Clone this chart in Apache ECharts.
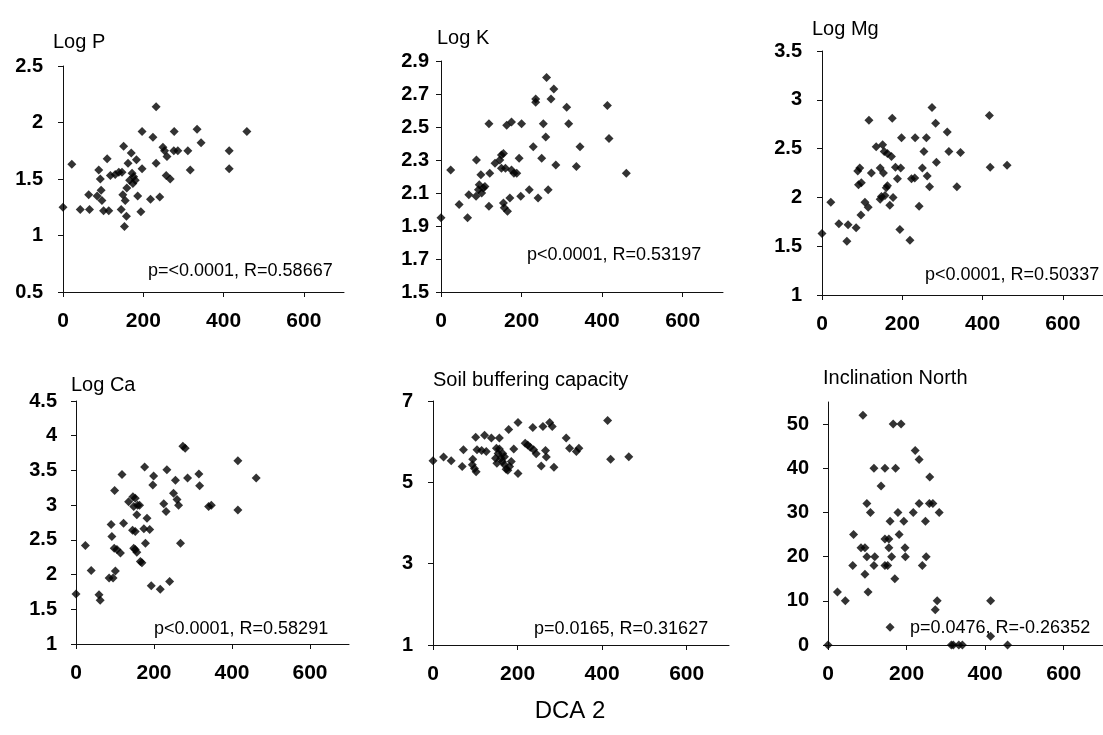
<!DOCTYPE html>
<html>
<head>
<meta charset="utf-8">
<script src="https://cdn.jsdelivr.net/npm/echarts@6/dist/echarts.min.js"></script>
<style>
html,body{margin:0;padding:0;background:#fff;}
#c{width:1103px;height:735px;}
</style>
</head>
<body>
<div id="c"></div>
<script>
// ---------- DATA ----------
const xTicks = [0, 200, 400, 600];

const logP = [[0,1.25],[22,1.63],[43,1.23],[64,1.36],[66,1.23],[89,1.58],[93,1.50],[85,1.35],[95,1.40],[97,1.31],
[101,1.22],[110,1.68],[114,1.22],[118,1.53],[130,1.54],[139,1.56],[147,1.56],[145,1.23],[149,1.36],[151,1.79],
[153,1.08],[155,1.31],[158,1.17],[159,1.42],[162,1.64],[166,1.49],[170,1.73],[172,1.55],[174,1.46],[176,1.52],
[180,1.49],[183,1.67],[186,1.35],[194,1.21],[197,1.92],[197,1.59],[218,1.32],[224,1.87],[232,2.14],[232,1.64],
[241,1.34],[249,1.78],[253,1.75],[259,1.70],[257,1.53],[267,1.50],[277,1.92],[276,1.75],[286,1.75],[311,1.75],
[317,1.58],[334,1.94],[344,1.82],[414,1.75],[414,1.59],[458,1.92]];
const logPTicks = [0.5, 1, 1.5, 2, 2.5];

const logK = [[0,1.95],[24,2.24],[45,2.03],[66,1.95],[69,2.09],[88,2.30],[87,2.08],[93,2.12],[95,2.15],[99,2.21],
[101,2.10],[105,2.13],[109,2.14],[119,2.52],[119,2.02],[121,2.22],[134,2.28],[146,2.30],[150,2.33],[155,2.34],
[150,2.25],[155,2.04],[157,2.01],[160,2.25],[163,2.51],[165,1.99],[171,2.07],[175,2.53],[175,2.24],[181,2.22],
[188,2.22],[194,2.31],[198,2.08],[200,2.52],[219,2.12],[229,2.38],[235,2.67],[235,2.65],[241,2.07],[250,2.31],
[254,2.52],[260,2.44],[262,2.80],[266,2.12],[273,2.67],[280,2.73],[285,2.27],[312,2.62],[317,2.52],[336,2.26],
[345,2.38],[413,2.63],[417,2.43],[460,2.22]];
const logKTicks = [1.5, 1.7, 1.9, 2.1, 2.3, 2.5, 2.7, 2.9];

const logMg = [[0,1.63],[22,1.95],[42,1.73],[62,1.55],[65,1.72],[85,1.69],[89,2.27],[94,2.30],[91,2.13],[98,2.15],
[97,1.82],[107,1.95],[115,1.90],[117,2.79],[123,2.25],[135,2.52],[145,2.30],[151,2.54],[153,2.25],[145,1.98],
[148,2.01],[155,2.47],[157,2.02],[160,2.10],[163,2.12],[163,2.45],[169,1.92],[173,2.42],[175,2.81],[177,2.00],
[183,2.31],[188,2.19],[194,1.67],[196,2.30],[198,2.61],[219,1.56],[223,2.19],[231,2.20],[232,2.61],[242,1.91],
[250,2.30],[254,2.47],[260,2.61],[262,2.22],[268,2.11],[274,2.92],[283,2.76],[285,2.36],[312,2.67],[316,2.47],
[336,2.11],[345,2.46],[417,2.84],[419,2.31],[461,2.33]];
const logMgTicks = [1, 1.5, 2, 2.5, 3, 3.5];

const logCa = [[0,1.72],[24,2.42],[39,2.06],[59,1.71],[62,1.63],[90,2.72],[92,2.55],[85,1.95],[95,1.95],[101,2.05],
[99,3.21],[98,2.38],[105,2.36],[114,2.31],[118,3.44],[122,2.74],[135,3.05],[146,3.12],[148,2.98],[152,3.10],
[156,2.86],[158,3.00],[163,3.00],[145,2.64],[152,2.62],[148,2.38],[152,2.36],[156,2.32],[165,2.19],[169,2.17],
[174,2.66],[176,3.55],[178,2.45],[182,2.81],[189,2.65],[193,1.84],[197,3.29],[199,3.42],[216,1.79],[225,3.02],
[231,2.91],[233,3.51],[240,1.90],[250,3.17],[255,3.36],[259,3.08],[263,3.00],[268,2.45],[274,3.85],[280,3.82],
[286,3.39],[315,3.45],[317,3.28],[340,2.98],[347,3.00],[415,3.64],[415,2.93],[462,3.39]];
const logCaTicks = [1, 1.5, 2, 2.5, 3, 3.5, 4, 4.5];

const soilBuffer = [[0,5.53],[25,5.62],[43,5.53],[69,5.39],[72,5.80],[94,5.57],[93,5.43],[98,5.34],[102,5.26],[101,6.11],
[104,5.80],[115,5.78],[122,6.16],[126,5.76],[138,6.09],[157,6.09],[150,5.84],[154,5.71],[157,5.82],[148,5.59],
[151,5.47],[161,5.59],[164,5.51],[165,5.71],[169,5.63],[169,5.43],[173,5.32],[177,5.30],[179,6.30],[181,5.39],
[185,5.51],[191,5.82],[201,6.47],[201,5.22],[218,5.96],[224,5.92],[230,5.86],[236,6.35],[238,5.80],[244,5.70],
[256,5.40],[260,6.37],[266,5.78],[268,5.62],[276,6.47],[282,6.37],[286,5.37],[315,6.09],[323,5.84],[339,5.76],
[345,5.84],[413,6.52],[420,5.57],[463,5.63]];
const soilTicks = [1, 3, 5, 7];

const inclNorth = [[0,0],[24,12],[44,10],[65,25],[63,18],[89,52],[84,22],[94,22],[99,20],[94,16],
[99,32],[108,30],[102,12],[117,40],[119,20],[117,18],[135,36],[145,40],[145,24],[155,24],
[145,18],[152,18],[155,22],[158,28],[158,4],[162,20],[166,50],[186,50],[172,40],[170,15],
[178,30],[181,25],[193,28],[196,22],[197,20],[217,30],[222,44],[232,42],[232,32],[240,18],
[248,28],[250,20],[259,38],[258,32],[267,32],[273,8],[278,10],[283,30],[314,0],[319,0],
[333,0],[342,0],[414,10],[414,2],[457,0]];
const inclTicks = [0, 10, 20, 30, 40, 50];

const panelTitles = ['Log P', 'Log K', 'Log Mg', 'Log Ca', 'Soil buffering capacity', 'Inclination North'];
const statTexts = ['p=<0.0001, R=0.58667', 'p<0.0001, R=0.53197', 'p<0.0001, R=0.50337',
                   'p<0.0001, R=0.58291', 'p=0.0165, R=0.31627', 'p=0.0476, R=-0.26352'];
const xAxisTitle = 'DCA 2';

// ---------- LAYOUT ----------
const FONT = '"Liberation Sans", Arial, Helvetica, sans-serif';
const panels = [
  {data: logP,  ticks: logPTicks,  min: 0.5, max: 2.5, grid: {left: 63, top: 66, width: 281, height: 226}, lm: 20,
   title: [53, 42], stat: [148, 271]},
  {data: logK,  ticks: logKTicks,  min: 1.5, max: 2.9, grid: {left: 441, top: 61, width: 282, height: 231}, lm: 12,
   title: [437, 38], stat: [527, 255]},
  {data: logMg, ticks: logMgTicks, min: 1, max: 3.5, grid: {left: 822, top: 51, width: 289, height: 244}, lm: 20,
   title: [812, 29], stat: [925, 275]},
  {data: logCa, ticks: logCaTicks, min: 1, max: 4.5, grid: {left: 76, top: 401, width: 273, height: 243}, lm: 19,
   title: [71, 385], stat: [154, 629]},
  {data: soilBuffer, ticks: soilTicks, min: 1, max: 7, grid: {left: 433, top: 401, width: 296, height: 244}, lm: 20,
   title: [433, 380], stat: [534, 629]},
  {data: inclNorth, ticks: inclTicks, min: 0, max: 55, grid: {left: 828, top: 402, width: 284, height: 243}, lm: 19,
   title: [823, 378], stat: [910, 628]}
];

const grids = [], xAxes = [], yAxes = [], series = [], graphics = [];
panels.forEach((p, i) => {
  grids.push(Object.assign({containLabel: false}, p.grid));
  xAxes.push({
    type: 'value', gridIndex: i, min: 0, max: 700,
    axisLine: {show: true, onZero: false, lineStyle: {color: '#111', width: 1}},
    axisTick: {show: true, length: 5, customValues: xTicks, lineStyle: {color: '#111'}},
    axisLabel: {customValues: xTicks, margin: 19, color: '#000', fontFamily: FONT, fontSize: 21, fontWeight: 'bold'},
    splitLine: {show: false}
  });
  yAxes.push({
    type: 'value', gridIndex: i, min: p.min, max: p.max,
    axisLine: {show: true, onZero: false, lineStyle: {color: '#111', width: 1}},
    axisTick: {show: true, length: 5, customValues: p.ticks, lineStyle: {color: '#111'}},
    axisLabel: {customValues: p.ticks, margin: p.lm, color: '#000', fontFamily: FONT, fontSize: 20, fontWeight: 'bold'},
    splitLine: {show: false}
  });
  series.push({
    type: 'scatter', xAxisIndex: i, yAxisIndex: i, data: p.data,
    symbol: 'diamond', symbolSize: 9, clip: false,
    itemStyle: {color: '#000'}, silent: true
  });
  graphics.push({
    type: 'text', x: p.title[0], y: p.title[1],
    style: {text: panelTitles[i], font: '20px ' + FONT, fill: '#000', verticalAlign: 'middle', align: 'left'}
  });
  graphics.push({
    type: 'text', x: p.stat[0], y: p.stat[1],
    style: {text: statTexts[i], font: '18px ' + FONT, fill: '#000', verticalAlign: 'middle', align: 'left'}
  });
});
graphics.push({
  type: 'text', x: 570, y: 711,
  style: {text: xAxisTitle, font: '24px ' + FONT, fill: '#000', verticalAlign: 'middle', align: 'center'}
});

const chart = echarts.init(document.getElementById('c'), null, {renderer: 'canvas'});
chart.setOption({
  animation: false,
  backgroundColor: '#fff',
  grid: grids,
  xAxis: xAxes,
  yAxis: yAxes,
  series: series,
  graphic: graphics
});
</script>
</body>
</html>
